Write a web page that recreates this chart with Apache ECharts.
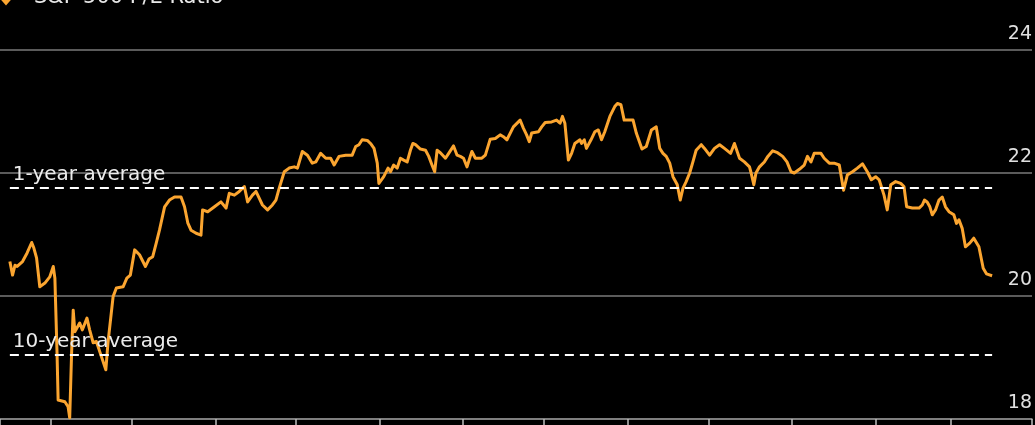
<!DOCTYPE html>
<html>
<head>
<meta charset="utf-8">
<script src="https://cdn.jsdelivr.net/npm/echarts@6/dist/echarts.min.js"></script>
<style>
html,body{margin:0;padding:0;background:#000;}
#chart{width:1035px;height:425px;}
</style>
</head>
<body>
<div id="chart"></div>
<script>
// Series name and reference levels
const seriesName = 'S&P 500 P/E Ratio';
const oneYearAverage = 21.76;
const tenYearAverage = 19.04;
const averageLabels = ['1-year average', '10-year average'];

// Dates: day offsets counted from the base date (13 Mar 2017)
const baseDate = [2017, 2, 13];
const dayOffsets = [
  3.8,4.8,5.7,6.5,8.5,10.2,11.9,12.7,13.7,14.9,16.8,18.6,19.9,20.5,21.3,21.7,24.2,25.4,26.0,26.7,
  27.3,27.9,29.7,30.7,32.4,33.4,34.7,35.9,37.8,39.4,40.2,42.1,43.3,45.8,47.2,48.5,50.1,51.9,54.1,55.4,
  56.8,58.1,59.3,61.2,63.0,64.9,67.3,68.6,69.8,71.0,72.9,74.7,75.3,77.2,79.7,82.1,82.7,84.0,85.2,87.1,
  88.9,90.8,92.0,93.8,95.1,96.3,97.5,99.4,101.2,102.5,103.7,105.6,107.4,109.3,110.5,112.3,114.2,116.0,117.3,119.1,
  121.0,122.8,124.1,125.9,128.4,130.8,132.1,133.3,134.5,136.4,137.6,138.9,140.1,140.7,141.3,142.5,144.1,145.0,146.2,147.5,
  148.7,149.9,151.2,152.4,153.3,154.3,156.1,158.0,159.2,160.4,161.4,162.3,163.5,165.4,166.6,168.4,169.7,170.9,172.1,173.4,
  174.6,175.2,176.5,178.9,180.2,182.0,183.9,185.7,186.9,188.2,190.6,193.1,194.3,195.5,196.5,197.4,199.9,201.1,202.4,204.8,
  206.6,207.9,208.8,209.7,211.0,212.2,213.4,215.3,215.9,216.9,217.7,219.4,220.8,222.1,223.3,224.5,226.4,228.2,229.2,230.5,
  231.7,233.2,235.0,236.2,236.9,238.3,239.9,241.8,243.6,244.9,246.1,247.3,248.6,249.8,251.4,252.5,253.5,254.7,256.0,257.2,
  258.4,260.3,261.5,263.4,265.2,267.1,268.9,271.2,272.6,273.2,274.5,276.3,278.2,278.8,279.8,280.6,281.9,283.7,285.0,286.8,
  288.6,290.5,292.1,293.6,294.8,296.7,298.5,299.7,301.0,302.2,304.7,305.9,307.8,309.6,311.5,313.1,314.5,316.4,318.2,320.1,
  321.9,323.4,325.0,326.3,328.1,329.3,330.6,332.4,334.3,335.5,336.5,338.6,341.1,342.3,343.1,344.1,345.1,346.0,347.2,348.5,
  349.7,350.9,352.2,354.0,355.0,355.9,357.1,358.3,359.9,361.4,363.3,364.9,366.1,368.2
];
const peRatio = [
  20.56,20.34,20.50,20.48,20.56,20.70,20.87,20.78,20.62,20.15,20.21,20.31,20.48,20.29,19.07,18.31,18.28,18.20,18.02,19.07,
  19.77,19.42,19.56,19.45,19.64,19.45,19.24,19.26,19.01,18.80,19.24,19.99,20.13,20.15,20.29,20.34,20.75,20.67,20.48,20.60,
  20.64,20.86,21.07,21.45,21.56,21.61,21.61,21.45,21.19,21.07,21.02,20.99,21.40,21.37,21.45,21.53,21.56,21.43,21.67,21.64,
  21.70,21.78,21.53,21.64,21.70,21.59,21.48,21.40,21.48,21.56,21.75,22.02,22.08,22.10,22.08,22.35,22.29,22.16,22.18,22.32,
  22.24,22.24,22.13,22.27,22.29,22.29,22.43,22.46,22.54,22.53,22.48,22.40,22.16,21.83,21.81,21.94,22.08,22.02,22.13,22.08,
  22.24,22.21,22.18,22.37,22.48,22.46,22.39,22.37,22.27,22.13,22.02,22.37,22.33,22.24,22.32,22.44,22.29,22.27,22.24,22.10,
  22.27,22.35,22.24,22.24,22.29,22.55,22.56,22.62,22.59,22.54,22.75,22.86,22.73,22.62,22.51,22.65,22.67,22.75,22.82,22.83,
  22.86,22.81,22.92,22.81,22.21,22.32,22.48,22.54,22.48,22.54,22.40,22.54,22.67,22.70,22.54,22.67,22.92,23.08,23.13,23.11,
  22.86,22.86,22.86,22.65,22.67,22.39,22.43,22.70,22.75,22.40,22.32,22.27,22.16,21.94,21.81,21.56,21.75,21.86,22.00,22.18,
  22.37,22.46,22.40,22.29,22.40,22.46,22.40,22.32,22.48,22.48,22.24,22.18,22.10,22.00,21.81,22.00,22.10,22.18,22.27,22.36,
  22.33,22.27,22.18,22.02,22.00,22.06,22.13,22.27,22.18,22.32,22.32,22.24,22.16,22.16,22.13,21.72,21.97,22.02,22.08,22.15,
  22.02,21.89,21.94,21.89,21.64,21.40,21.81,21.86,21.83,21.78,21.45,21.43,21.43,21.48,21.56,21.53,21.45,21.32,21.40,21.56,
  21.61,21.45,21.37,21.32,21.18,21.24,21.10,20.80,20.86,20.94,20.80,20.45,20.36,20.33
];
const yMin = 18, yMax = 24, yStep = 2;
const axisStartOffset = 0.14, axisEndOffset = 383;

const DAY = 86400000;
const base = new Date(baseDate[0], baseDate[1], baseDate[2]).getTime();
const toTime = d => base + d * DAY;
const lineData = dayOffsets.map((d, i) => [toTime(d), peRatio[i]]);
const firstT = toTime(dayOffsets[0]);
const lastT = toTime(dayOffsets[dayOffsets.length - 1]);

const FONT = 'DejaVu Sans';
const ORANGE = '#fba530';
const chart = echarts.init(document.getElementById('chart'));
chart.setOption({
  backgroundColor: '#000',
  animation: false,
  textStyle: { fontFamily: FONT },
  legend: {
    left: -6, top: -18,
    icon: 'diamond', itemWidth: 14, itemHeight: 16,
    textStyle: { color: '#e8e8e8', fontSize: 21, fontFamily: FONT, padding: [0, 0, 0, 16] },
    data: [seriesName]
  },
  grid: { left: 0, right: 3, top: 50, bottom: 6, containLabel: false },
  xAxis: {
    type: 'time',
    min: toTime(axisStartOffset),
    max: toTime(axisEndOffset),
    splitNumber: 12,
    minInterval: 28 * DAY,
    maxInterval: 31 * DAY,
    axisLine: { show: true, lineStyle: { color: '#8a8a8a', width: 1.5 } },
    axisTick: { show: true, length: 8, lineStyle: { color: '#bdbdbd', width: 1.5 } },
    axisLabel: { show: false },
    splitLine: { show: false }
  },
  yAxis: {
    type: 'value',
    position: 'right',
    min: yMin, max: yMax, interval: yStep,
    axisLine: { show: false },
    axisTick: { show: false },
    axisLabel: {
      inside: true, margin: 0,
      color: '#e0e0e0', fontSize: 19, fontFamily: FONT,
      verticalAlign: 'bottom', padding: [0, 0, 6, 0]
    },
    splitLine: { show: true, lineStyle: { color: '#7a7a7a', width: 1.5 } }
  },
  series: [{
    name: seriesName,
    type: 'line',
    data: lineData,
    showSymbol: false,
    symbol: 'none',
    itemStyle: { color: ORANGE },
    lineStyle: { color: ORANGE, width: 3, join: 'round' },
    markLine: {
      silent: true,
      symbol: 'none',
      lineStyle: { color: '#ffffff', type: [9, 6], width: 2.2 },
      label: {
        show: true, position: 'insideStartTop', distance: 3,
        color: '#ececec', fontSize: 20, fontFamily: FONT,
        formatter: p => p.name
      },
      data: [
        [{ name: averageLabels[0], coord: [firstT, oneYearAverage] }, { coord: [lastT, oneYearAverage] }],
        [{ name: averageLabels[1], coord: [firstT, tenYearAverage] }, { coord: [lastT, tenYearAverage] }]
      ]
    }
  }]
});
</script>
</body>
</html>
